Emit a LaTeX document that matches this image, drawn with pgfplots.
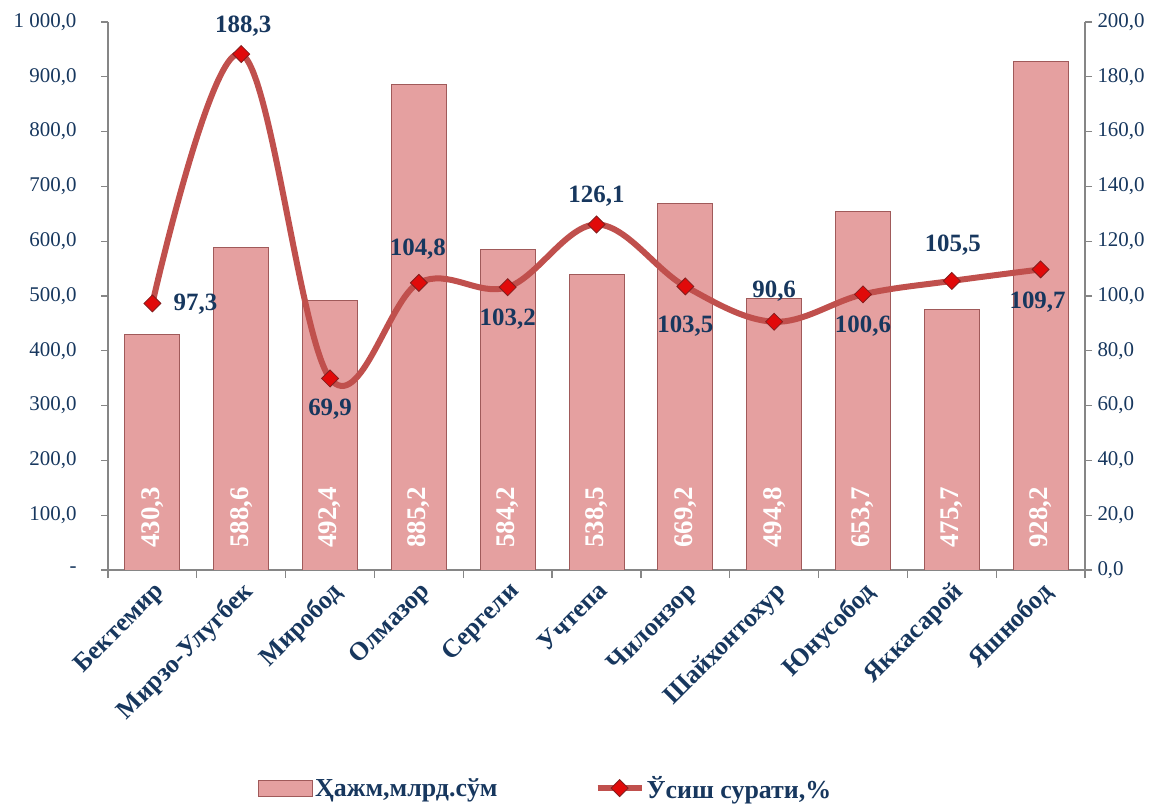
\documentclass[border=0pt]{standalone}
\usepackage{pgfplots}
\pgfplotsset{compat=1.18}
\usepackage{pgfplotstable}
\usepackage{fontspec}
\setmainfont{Liberation Serif}
\definecolor{navy}{RGB}{23,55,94}
\definecolor{barfill}{RGB}{229,160,160}
\definecolor{baredge}{RGB}{160,90,90}
\definecolor{linered}{RGB}{192,80,77}
\definecolor{mkred}{RGB}{225,10,10}
\definecolor{mkedge}{RGB}{130,30,30}
\definecolor{axgray}{RGB}{134,134,134}

\pgfplotsset{
  barlegend/.style={legend image code/.code={\draw[##1] (0bp,-8bp) rectangle (54bp,8bp);}},
  linelegend/.style={legend image code/.code={\draw[mark repeat=2, mark phase=2, ##1] plot coordinates {(0bp,0bp) (22bp,0bp) (44bp,0bp)};}},
}

\pgfplotstableread{
x vol lab
0 430.3 430,3
1 588.6 588,6
2 492.4 492,4
3 885.2 885,2
4 584.2 584,2
5 538.5 538,5
6 669.2 669,2
7 494.8 494,8
8 653.7 653,7
9 475.7 475,7
10 928.2 928,2
}\bardata

\pgfplotstableread{
x g lab dx dy
0 97.3 97,3 43 -1
1 188.3 188,3 2 28
2 69.9 69,9 0 -31
3 104.8 104,8 -1 34
4 103.2 103,2 0 -32
5 126.1 126,1 0 28
6 103.5 103,5 0 -40
7 90.6 90,6 0 31
8 100.6 100,6 0 -32
9 105.5 105,5 1 36
10 109.7 109,7 -3 -33
}\linedata

\begin{document}
\begin{tikzpicture}
\useasboundingbox (0,0) rectangle (1153bp,805bp);
\begin{axis}[
  at={(108bp,235bp)}, anchor=south west,
  width=977bp, height=548bp, scale only axis,
  xmin=-0.5, xmax=10.5,
  ymin=0, ymax=1000,
  axis x line*=bottom, axis y line*=left,
  axis line style={draw=axgray, line width=1.3bp},
  tick style={draw=axgray, line width=1.3bp},
  tick align=outside,
  xtick={0,...,10},
  major x tick style={draw=none},
  minor xtick={-0.5,0.5,...,10.5},
  minor tick length=8bp,
  major tick length=7bp,
  xticklabels={Бектемир,Мирзо-Улугбек,Миробод,Олмазор,Сергели,Учтепа,Чилонзор,Шайхонтохур,Юнусобод,Яккасарой,Яшнобод},
  xticklabel style={rotate=45, anchor=north east, font=\fontsize{26}{28}\selectfont\bfseries, text=navy, inner sep=2bp},
  ytick={0,100,...,1000},
  yticklabels={-,{100,0},{200,0},{300,0},{400,0},{500,0},{600,0},{700,0},{800,0},{900,0},{1 000,0}},
  yticklabel style={font=\fontsize{21}{23}\selectfont, text=navy, xshift=-21bp},
  legend columns=2,
  legend style={draw=none, fill=none, at={(0.448,-0.398)}, anchor=center,
    font=\fontsize{26}{28}\selectfont\bfseries, text=navy,
    /tikz/every even column/.append style={column sep=95bp}},
]
\addplot[ybar, bar width=55bp, bar shift=0pt, fill=barfill, draw=baredge, line width=1bp, barlegend]
  table[x=x, y=vol] {\bardata};
\addlegendentry{Ҳажм,млрд.сўм}
\addplot[draw=none, mark=none, forget plot,
  nodes near coords, point meta=explicit symbolic,
  nodes near coords style={rotate=90, anchor=west, inner sep=0pt, text=white,
    font=\fontsize{27}{30}\selectfont\bfseries}]
  table[x=x, y expr=40, meta=lab] {\bardata};
\addlegendimage{linered, line width=6bp, mark=square*, mark size=6bp,
  mark options={rotate=45, fill=mkred, draw=mkedge, line width=0.8bp}, linelegend}
\addlegendentry{Ўсиш сурати,\%}
\end{axis}
\begin{axis}[
  at={(108bp,235bp)}, anchor=south west,
  width=977bp, height=548bp, scale only axis,
  xmin=-0.5, xmax=10.5,
  ymin=0, ymax=200,
  axis x line=none, axis y line*=right,
  axis line style={draw=axgray, line width=1.3bp},
  tick style={draw=axgray, line width=1.3bp},
  tick align=outside,
  major tick length=7bp,
  ytick={0,20,...,200},
  yticklabels={{0,0},{20,0},{40,0},{60,0},{80,0},{100,0},{120,0},{140,0},{160,0},{180,0},{200,0}},
  yticklabel style={font=\fontsize{21}{23}\selectfont, text=navy, xshift=2bp},
]
\addplot[linered, line width=6bp, smooth, tension=0.6,
  mark=square*, mark size=6bp,
  mark options={rotate=45, fill=mkred, draw=mkedge, line width=0.8bp},
  nodes near coords, point meta=explicit symbolic,
  visualization depends on={\thisrow{dx} \as \ldx},
  visualization depends on={\thisrow{dy} \as \ldy},
  nodes near coords style={anchor=center, inner sep=0pt, xshift=\ldx bp, yshift=\ldy bp,
    text=navy, font=\fontsize{25}{27}\selectfont\bfseries}]
  table[x=x, y=g, meta=lab] {\linedata};
\end{axis}
\end{tikzpicture}
\end{document}
